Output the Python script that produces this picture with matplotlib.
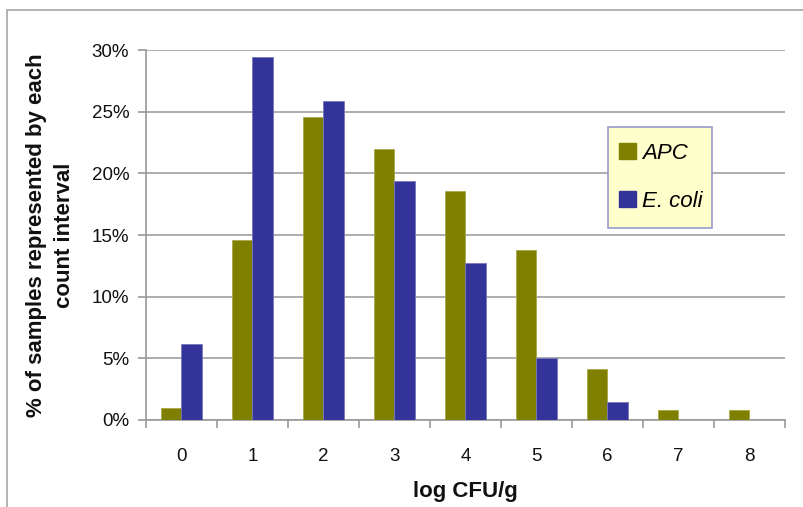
import matplotlib
matplotlib.use("Agg")
import matplotlib.pyplot as plt
from matplotlib.patches import Rectangle, Patch
from matplotlib.ticker import FuncFormatter, FixedLocator
import numpy as np

categories = ["0", "1", "2", "3", "4", "5", "6", "7", "8"]
apc = [1.0, 14.6, 24.6, 22.0, 18.6, 13.8, 4.1, 0.8, 0.8]
ecoli = [6.2, 29.4, 25.9, 19.4, 12.7, 5.0, 1.5, 0.0, 0.0]

plt.rcParams['font.family'] = ['Liberation Sans', 'DejaVu Sans']

W, H = 804, 507
fig = plt.figure(figsize=(W / 100, H / 100), dpi=100)

# outer chart frame
fig.patches.append(Rectangle((7 / W, -0.1), 1.2, (H - 10) / H + 0.1,
                             transform=fig.transFigure, fill=False,
                             edgecolor='#a6a6a6', linewidth=1.2, zorder=0))

left, right, top, bottom = 146, 785, 50, 420
ax = fig.add_axes([left / W, 1 - bottom / H, (right - left) / W, (bottom - top) / H])

x = np.arange(len(categories))
bw = 0.295
ax.bar(x - bw / 2, apc, bw, color='#808000', edgecolor='#a8a84a', linewidth=0.6,
       label='APC', zorder=3)
ax.bar(x + bw / 2, ecoli, bw, color='#333399', edgecolor='#7777bb', linewidth=0.6,
       label='E. coli', zorder=3)

ax.set_xlim(-0.5, len(categories) - 0.5)
ax.set_ylim(0, 30)
ax.set_yticks(np.arange(0, 31, 5))
ax.yaxis.set_major_formatter(FuncFormatter(lambda v, p: f"{int(v)}%"))
ax.set_xticks(x)
ax.set_xticklabels(categories)
ax.xaxis.set_minor_locator(FixedLocator(np.arange(-0.5, len(categories), 1)))
ax.tick_params(axis='x', which='major', length=0, pad=20, labelsize=13.5, colors='#111111')
ax.tick_params(axis='x', which='minor', length=6, width=1.2, color='#999999', direction='out')
ax.tick_params(axis='y', length=6, width=1.2, color='#999999', labelsize=13.5, pad=6,
               labelcolor='#111111')

ax.grid(axis='y', color='#a0a0a0', linewidth=1.2, zorder=0)
ax.set_axisbelow(True)
for s in ['top', 'right']:
    ax.spines[s].set_visible(False)
for s in ['left', 'bottom']:
    ax.spines[s].set_color('#999999')
    ax.spines[s].set_linewidth(1.2)

ax.set_xlabel('log CFU/g', fontsize=16, fontweight='bold', labelpad=12, color='#111111')
ax.set_ylabel('% of samples represented by each\ncount interval', fontsize=16,
              fontweight='bold', labelpad=12, color='#111111', linespacing=1.45)

# legend box
fig.patches.append(Rectangle((608 / W, 1 - 228 / H), (712 - 608) / W, (228 - 127) / H,
                             transform=fig.transFigure, facecolor='#ffffcc',
                             edgecolor='#9a9acc', linewidth=1.2, zorder=5))

handles = [Patch(facecolor='#808000', edgecolor='#808000'),
           Patch(facecolor='#333399', edgecolor='#333399')]
leg = fig.legend(handles, ['APC', 'E. coli'], loc='upper left',
                 bbox_to_anchor=(619 / W, 1 - 143 / H),
                 prop={'style': 'italic', 'size': 16}, frameon=False,
                 handlelength=0.75, handleheight=0.75, handletextpad=0.3,
                 labelspacing=1.2, borderpad=0, borderaxespad=0)
leg.set_zorder(6)

fig.savefig('out.png', dpi=100)
